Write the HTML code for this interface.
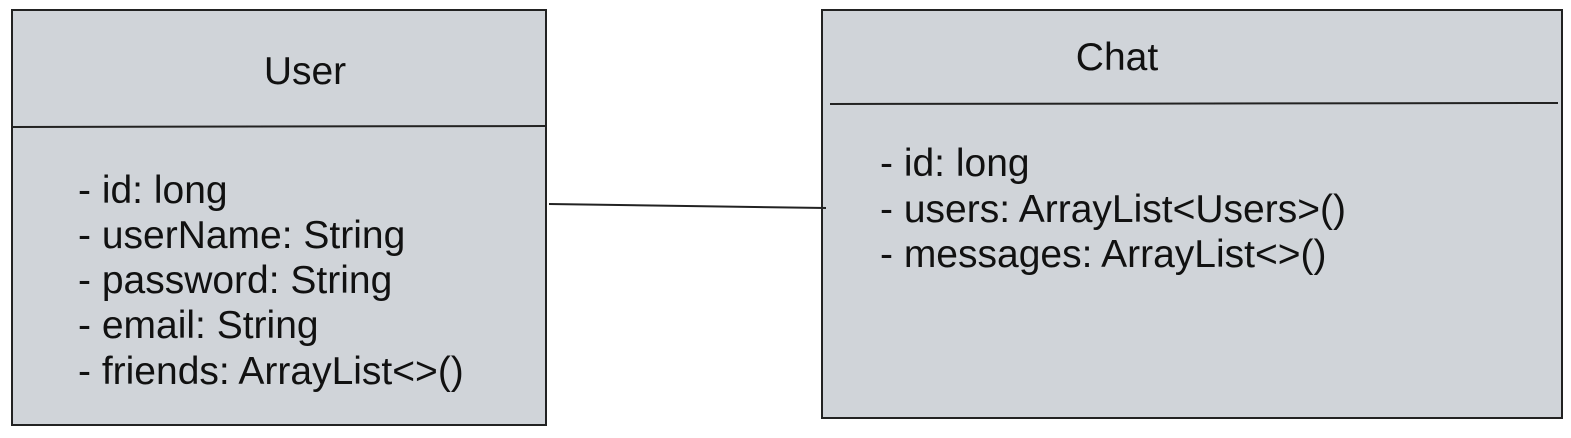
<!DOCTYPE html>
<html><head><meta charset="utf-8"><style>
html,body{margin:0;padding:0;background:#fff;}
svg text{font-family:"Liberation Sans",Arial,sans-serif;font-size:39px;fill:#111;}
</style></head><body>
<svg width="1571" height="433" viewBox="0 0 1571 433" xmlns="http://www.w3.org/2000/svg">
<rect x="12" y="10" width="534" height="415" fill="#d0d4d9" stroke="#222" stroke-width="2"/>
<line x1="13" y1="127" x2="545" y2="126" stroke="#222" stroke-width="2"/>
<text x="305" y="84" text-anchor="middle">User</text>
<text x="78" y="203">- id: long</text>
<text x="78" y="248">- userName: String</text>
<text x="78" y="293">- password: String</text>
<text x="78" y="338">- email: String</text>
<text x="78" y="384">- friends: ArrayList&lt;&gt;()</text>
<rect x="822" y="10" width="740" height="408" fill="#d0d4d9" stroke="#222" stroke-width="2"/>
<line x1="830" y1="104" x2="1558" y2="103" stroke="#222" stroke-width="2"/>
<text x="1117" y="70" text-anchor="middle">Chat</text>
<text x="880" y="176">- id: long</text>
<text x="880" y="222">- users: ArrayList&lt;Users&gt;()</text>
<text x="880" y="267">- messages: ArrayList&lt;&gt;()</text>
<line x1="549" y1="204" x2="826" y2="208" stroke="#222" stroke-width="2"/>
</svg>
</body></html>
